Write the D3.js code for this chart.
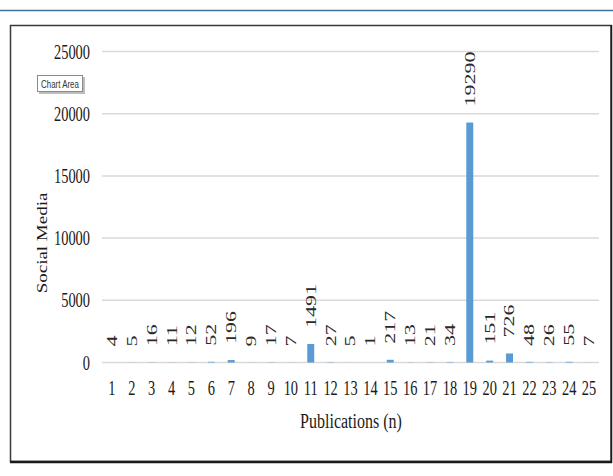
<!DOCTYPE html>
<html><head><meta charset="utf-8">
<script src="https://cdn.jsdelivr.net/npm/d3@7"></script>
<style>body{margin:0;background:#fff;}svg{display:block;}</style>
</head><body>
<svg id="c" width="613" height="476"></svg>
<script>
const categories = ["1","2","3","4","5","6","7","8","9","10","11","12","13","14","15","16","17","18","19","20","21","22","23","24","25"];
const values = [4,5,16,11,12,52,196,9,17,7,1491,27,5,1,217,13,21,34,19290,151,726,48,26,55,7];
const yTicks = [0,5000,10000,15000,20000,25000];
const xTitle = "Publications (n)";
const yTitle = "Social Media";

const svg = d3.select("#c");
const font = "'Liberation Serif','Times New Roman',serif";

// top blue rule
svg.append("line").attr("x1",0).attr("x2",613).attr("y1",10.5).attr("y2",10.5)
  .attr("stroke","#41719c").attr("stroke-width",1.5);
// chart frame
svg.append("rect").attr("x",10.5).attr("y",25.5).attr("width",600.5).attr("height",436)
  .attr("fill","none").attr("stroke","#3a3a3a").attr("stroke-width",1.5);
svg.append("line").attr("x1",10).attr("x2",612).attr("y1",462).attr("y2",462)
  .attr("stroke","#1a1a1a").attr("stroke-width",2.5);
svg.append("line").attr("x1",611.5).attr("x2",611.5).attr("y1",25).attr("y2",463)
  .attr("stroke","#1a1a1a").attr("stroke-width",1.5);

const x = d3.scaleBand().domain(categories).range([102,599]).paddingInner(0.65).paddingOuter(0.325);
const y = d3.scaleLinear().domain([0,25000]).range([362.5,51.5]);

// gridlines
svg.append("g").selectAll("line").data(yTicks).join("line")
  .attr("x1",102).attr("x2",599).attr("y1",d=>y(d)).attr("y2",d=>y(d))
  .attr("stroke","#d9d9d9").attr("stroke-width",1.5);

// y tick labels
svg.append("g").selectAll("text").data(yTicks).join("text")
  .attr("transform",d=>`translate(90,${y(d)}) scale(0.72,1)`)
  .attr("text-anchor","end").attr("dy","0.35em")
  .attr("font-family",font).attr("font-size",20).attr("fill","#1a1a1a")
  .text(d=>d);

// bars
svg.append("g").selectAll("rect").data(values).join("rect")
  .attr("x",(d,i)=>x(categories[i])).attr("width",x.bandwidth())
  .attr("y",d=>y(d)).attr("height",d=>y(0)-y(d))
  .attr("fill","#5b9bd5");

// value labels
svg.append("g").selectAll("text").data(values).join("text")
  .attr("transform",(d,i)=>`translate(${x(categories[i])+x.bandwidth()/2},${y(d)-16}) scale(0.68,1) rotate(-90)`)
  .attr("text-anchor","start").attr("dy","0.33em")
  .attr("font-family",font).attr("font-size",22).attr("fill","#2a2a2a")
  .text(d=>d);

// x tick labels
svg.append("g").selectAll("text").data(categories).join("text")
  .attr("transform",d=>`translate(${x(d)+x.bandwidth()/2},395) scale(0.72,1)`)
  .attr("text-anchor","middle")
  .attr("font-family",font).attr("font-size",20).attr("fill","#1a1a1a")
  .text(d=>d);

// axis titles
svg.append("text").attr("transform","translate(351,428) scale(0.8,1)")
  .attr("text-anchor","middle").attr("font-family",font).attr("font-size",20).attr("fill","#1a1a1a")
  .text(xTitle);
svg.append("text").attr("transform","translate(42,243) scale(0.82,1) rotate(-90)")
  .attr("text-anchor","middle").attr("dy","0.35em").attr("font-family",font).attr("font-size",19).attr("fill","#1a1a1a")
  .text(yTitle);

// "Chart Area" tooltip
const tip = svg.append("g");
tip.append("rect").attr("x",39).attr("y",77).attr("width",46).attr("height",17).attr("fill","#bdbdbd");
tip.append("rect").attr("x",37.5).attr("y",75.5).attr("width",45).attr("height",16)
  .attr("fill","#fff").attr("stroke","#8a8a8a").attr("stroke-width",1);
tip.append("text").attr("transform","translate(60,87.5) scale(0.72,1)")
  .attr("text-anchor","middle").attr("font-family","'Liberation Sans',Arial,sans-serif").attr("font-size",11).attr("fill","#333")
  .text("Chart Area");
</script>
</body></html>
